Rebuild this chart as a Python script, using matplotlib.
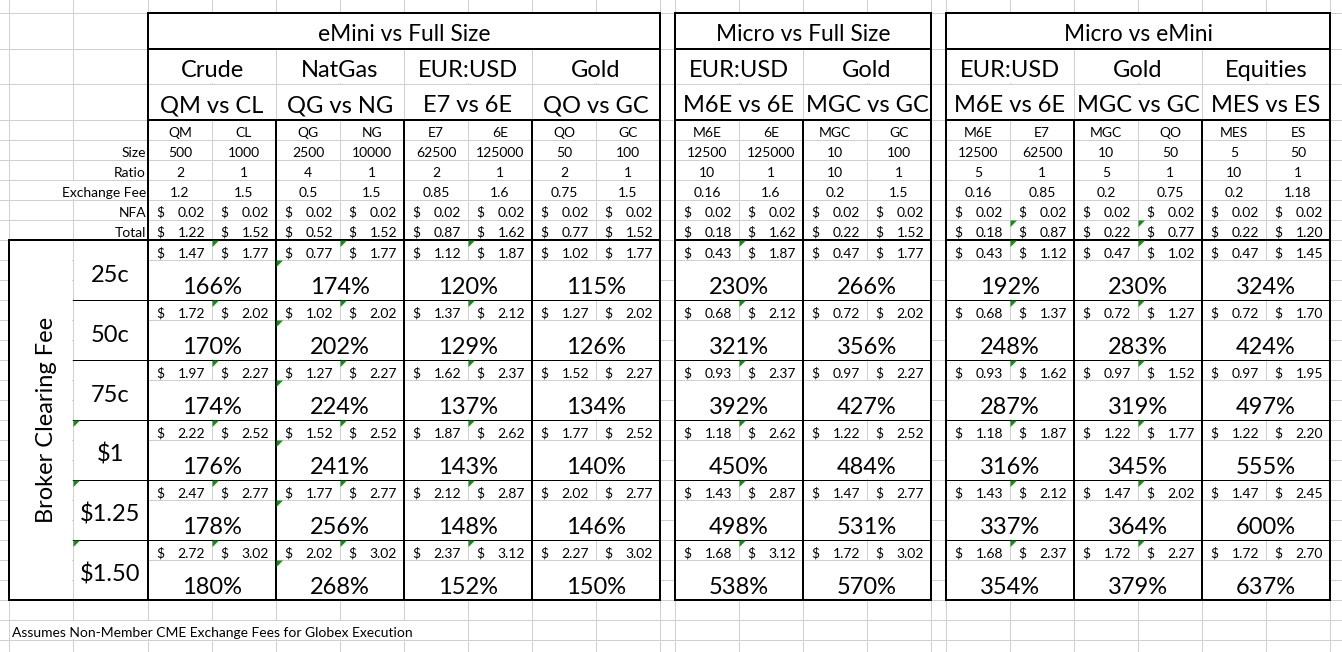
import matplotlib.pyplot as plt
from matplotlib.patches import Rectangle, Polygon

# ---- data ----
groups = ["eMini vs Full Size", "Micro vs Full Size", "Micro vs eMini"]
pairs_per_group = [4, 2, 3]
markets = ["Crude", "NatGas", "EUR:USD", "Gold", "EUR:USD", "Gold", "EUR:USD", "Gold", "Equities"]
matchups = ["QM vs CL", "QG vs NG", "E7 vs 6E", "QO vs GC", "M6E vs 6E", "MGC vs GC",
            "M6E vs 6E", "MGC vs GC", "MES vs ES"]
contracts = ["QM", "CL", "QG", "NG", "E7", "6E", "QO", "GC", "M6E", "6E", "MGC", "GC",
             "M6E", "E7", "MGC", "QO", "MES", "ES"]
sizes = [500, 1000, 2500, 10000, 62500, 125000, 50, 100, 12500, 125000, 10, 100,
         12500, 62500, 10, 50, 5, 50]
ratios = [2, 1, 4, 1, 2, 1, 2, 1, 10, 1, 10, 1, 5, 1, 5, 1, 10, 1]
exchange_fees = [1.2, 1.5, 0.5, 1.5, 0.85, 1.6, 0.75, 1.5, 0.16, 1.6, 0.2, 1.5,
                 0.16, 0.85, 0.2, 0.75, 0.2, 1.18]
nfa_fees = [0.02, 0.02, 0.02, 0.02, 0.02, 0.02, 0.02, 0.02, 0.02, 0.02, 0.02, 0.02,
            0.02, 0.02, 0.02, 0.02, 0.02, 0.02]
totals = [1.22, 1.52, 0.52, 1.52, 0.87, 1.62, 0.77, 1.52, 0.18, 1.62, 0.22, 1.52,
          0.18, 0.87, 0.22, 0.77, 0.22, 1.20]
fee_labels = ["25c", "50c", "75c", "$1", "$1.25", "$1.50"]
all_in_costs = [
    [1.47, 1.77, 0.77, 1.77, 1.12, 1.87, 1.02, 1.77, 0.43, 1.87, 0.47, 1.77, 0.43, 1.12, 0.47, 1.02, 0.47, 1.45],
    [1.72, 2.02, 1.02, 2.02, 1.37, 2.12, 1.27, 2.02, 0.68, 2.12, 0.72, 2.02, 0.68, 1.37, 0.72, 1.27, 0.72, 1.70],
    [1.97, 2.27, 1.27, 2.27, 1.62, 2.37, 1.52, 2.27, 0.93, 2.37, 0.97, 2.27, 0.93, 1.62, 0.97, 1.52, 0.97, 1.95],
    [2.22, 2.52, 1.52, 2.52, 1.87, 2.62, 1.77, 2.52, 1.18, 2.62, 1.22, 2.52, 1.18, 1.87, 1.22, 1.77, 1.22, 2.20],
    [2.47, 2.77, 1.77, 2.77, 2.12, 2.87, 2.02, 2.77, 1.43, 2.87, 1.47, 2.77, 1.43, 2.12, 1.47, 2.02, 1.47, 2.45],
    [2.72, 3.02, 2.02, 3.02, 2.37, 3.12, 2.27, 3.02, 1.68, 3.12, 1.72, 3.02, 1.68, 2.37, 1.72, 2.27, 1.72, 2.70],
]
cost_ratio_pct = [
    [166, 174, 120, 115, 230, 266, 192, 230, 324],
    [170, 202, 129, 126, 321, 356, 248, 283, 424],
    [174, 224, 137, 134, 392, 427, 287, 319, 497],
    [176, 241, 143, 140, 450, 484, 316, 345, 555],
    [178, 256, 148, 146, 498, 531, 337, 364, 600],
    [180, 268, 152, 150, 538, 570, 354, 379, 637],
]
row_labels = ["Size", "Ratio", "Exchange Fee", "NFA", "Total"]
footnote = "Assumes Non-Member CME Exchange Fees for Globex Execution"

# ---- sheet geometry (pixels) ----
W, H = 1342, 652
COL_W = 64
group_x0 = [148, 675, 946]
BODY_TOP = 240
BLOCK_H = 60

plt.rcParams['font.family'] = ['Lato', 'DejaVu Sans']
fig = plt.figure(figsize=(W / 100, H / 100), dpi=100)
ax = fig.add_axes([0, 0, 1, 1])
ax.set_xlim(0, W)
ax.set_ylim(H, 0)
ax.axis('off')

PX = 0.72
GRID = '#d0d0d0'
GREEN = '#1a8a1a'
SMALL = 10
BIG = 17


def hline(y, x0, x1, w=1, c='black', z=3):
    ax.plot([x0, x1], [y, y], color=c, lw=w * PX, solid_capstyle='projecting', zorder=z)


def vline(x, y0, y1, w=1, c='black', z=3):
    ax.plot([x, x], [y0, y1], color=c, lw=w * PX, solid_capstyle='projecting', zorder=z)


def blank(x0, y0, x1, y1):
    ax.add_patch(Rectangle((x0 + 0.6, y0 + 0.6), x1 - x0 - 1.2, y1 - y0 - 1.2,
                           facecolor='white', edgecolor='none', zorder=2))


def flag(x, y):
    ax.add_patch(Polygon([(x + 0.5, y + 0.5), (x + 7, y + 0.5), (x + 0.5, y + 7)],
                         closed=True, facecolor=GREEN, edgecolor='none', zorder=4))


def txt(x, y, s, size=SMALL, ha='center', **kw):
    ax.text(x, y, s, fontsize=size, ha=ha, va='baseline', parse_math=False, zorder=5, **kw)


def money(x0, y, v):
    txt(x0 + 8.5, y, "$", ha='left')
    txt(x0 + COL_W - 7, y, f"{v:.2f}", ha='right')


# column edges of every contract column
col_x = []
for gx, n in zip(group_x0, pairs_per_group):
    col_x += [gx + i * COL_W for i in range(2 * n)]
grid_x = sorted(set([9, 73] + col_x + [gx + 2 * n * COL_W for gx, n in zip(group_x0, pairs_per_group)]))
grid_y = [13, 49, 84] + list(range(120, H + 1, 20))

# light sheet gridlines
for x in grid_x:
    vline(x, 0, H, c=GRID, z=1)
for y in grid_y:
    hline(y, 0, W, c=GRID, z=1)

# cells where text spills over the gridlines
blank(70, 180, 76, 200)
blank(9, 620, 468, 640)

# merged cells
blank(9, BODY_TOP, 73, BODY_TOP + 6 * BLOCK_H)
for k in range(6):
    blank(73, BODY_TOP + k * BLOCK_H, 148, BODY_TOP + (k + 1) * BLOCK_H)

p = 0
for g, (gx, n) in enumerate(zip(group_x0, pairs_per_group)):
    gx1 = gx + 2 * n * COL_W
    blank(gx, 13, gx1, 49)
    txt((gx + gx1) / 2, 41, groups[g], size=16.4)
    for j in range(n):
        px0 = gx + 2 * j * COL_W
        px1 = px0 + 2 * COL_W
        blank(px0, 49, px1, 84)
        blank(px0, 84, px1, 120)
        txt((px0 + px1) / 2, 77, markets[p], size=17)
        txt((px0 + px1) / 2, 112, matchups[p], size=17)
        for k in range(6):
            yb = BODY_TOP + k * BLOCK_H
            blank(px0, yb + 20, px1, yb + BLOCK_H)
            txt((px0 + px1) / 2, yb + 54, f"{cost_ratio_pct[k][p]}%", size=BIG)
        if j > 0:
            vline(px0, 120, 600, w=2)
        p += 1
    # block frame
    vline(gx, 13, 600, w=2)
    vline(gx1, 13, 600, w=2)
    hline(13, gx, gx1, w=2)
    hline(600, gx, gx1, w=2)
    hline(49, gx, gx1, w=2)
    hline(120, gx, gx1, w=2)
    hline(240, gx, gx1, w=2)
    for k in range(1, 6):
        hline(BODY_TOP + k * BLOCK_H, gx, gx1, w=1)

# left "Broker Clearing Fee" block
vline(9, 240, 600, w=2)
vline(148, 240, 600, w=2)
hline(240, 9, 148, w=2)
hline(600, 9, 148, w=2)
for k in range(1, 6):
    hline(BODY_TOP + k * BLOCK_H, 73, 148, w=1)
ax.text(53, 420, "Broker Clearing Fee", fontsize=BIG, rotation=90, rotation_mode='anchor',
        ha='center', va='baseline', zorder=5)
for k, lab in enumerate(fee_labels):
    txt(110.5, BODY_TOP + k * BLOCK_H + 42, lab, size=BIG)

# row labels of the contract spec rows
for i, lab in enumerate(row_labels):
    txt(146, 157 + 20 * i, lab, ha='right')

# contract columns
for c, x0 in enumerate(col_x):
    xc = x0 + COL_W / 2
    txt(xc, 137, contracts[c])
    txt(xc, 157, f"{sizes[c]}")
    txt(xc, 177, f"{ratios[c]}")
    txt(xc, 197, f"{exchange_fees[c]:g}")
    money(x0, 217, nfa_fees[c])
    money(x0, 237, totals[c])
    for k in range(6):
        money(x0, BODY_TOP + k * BLOCK_H + 17.5, all_in_costs[k][c])

# green cell markers
for k in range(6):
    yb = BODY_TOP + k * BLOCK_H
    for x in [212, 340, 468, 739, 1010, 1138]:
        flag(x, yb)
    flag(276, yb + 20)
for x in [1010, 1138]:
    flag(x, 220)
for k in [3, 4, 5]:
    flag(73, BODY_TOP + k * BLOCK_H)

txt(12, 637, footnote, ha='left')

fig.savefig('out.png', dpi=100)
